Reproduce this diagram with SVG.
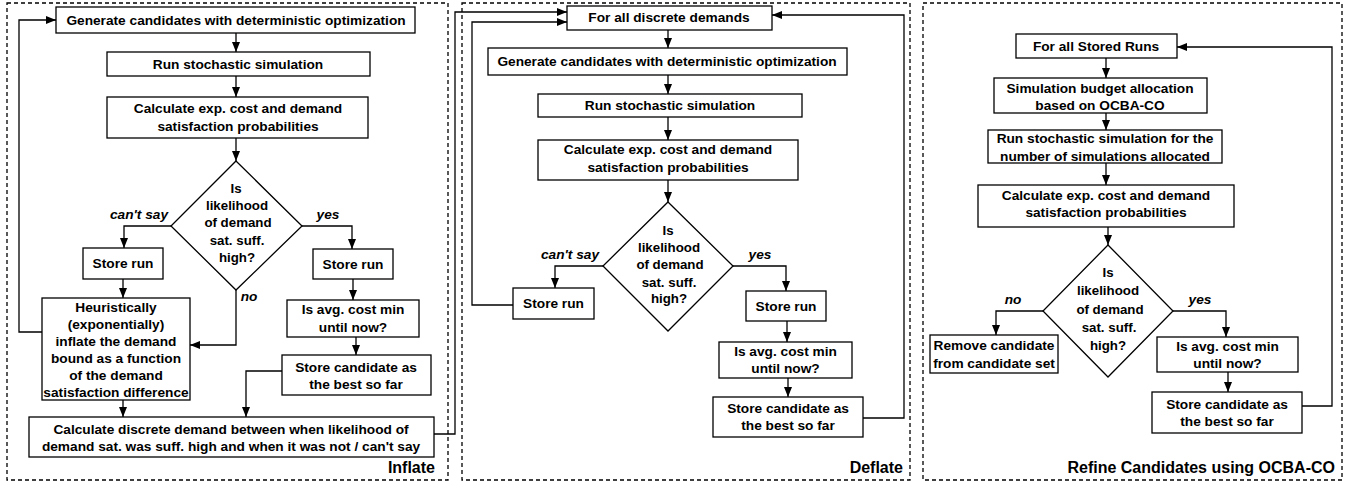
<svg xmlns="http://www.w3.org/2000/svg" width="1350" height="487" viewBox="0 0 1350 487">
<style>
.panel{fill:none;stroke:#000;stroke-width:1.3;stroke-dasharray:4,3}
.box{fill:#fff;stroke:#000;stroke-width:1.3}
.t{font-family:"Liberation Sans",Arial,Helvetica,sans-serif;font-weight:bold;font-size:13.7px;text-anchor:middle;dominant-baseline:central;fill:#000}
.d{font-size:13.3px}
.lbl{font-family:"Liberation Sans",Arial,Helvetica,sans-serif;font-weight:bold;font-style:italic;font-size:13.7px;text-anchor:middle;fill:#000}
.title{font-family:"Liberation Sans",Arial,Helvetica,sans-serif;font-weight:bold;font-size:16px;text-anchor:end;fill:#000}
.c{fill:none;stroke:#000;stroke-width:1.3;marker-end:url(#ah)}
.cn{fill:none;stroke:#000;stroke-width:1.3}
</style>
<defs>
<marker id="ah" markerUnits="userSpaceOnUse" markerWidth="10" markerHeight="8" refX="10" refY="4" orient="auto">
<path d="M0,0 L10,4 L0,8 z" fill="#000"/>
</marker>
</defs>
<rect x="0" y="0" width="1350" height="487" fill="#fff"/>

<g id="panel-inflate">
<rect class="panel" x="7" y="3" width="441" height="477"/>
<text class="title" x="435" y="473">Inflate</text>
</g>
<g id="panel-deflate">
<rect class="panel" x="462" y="3" width="448" height="477"/>
<text class="title" x="903" y="473">Deflate</text>
</g>
<g id="panel-refine">
<rect class="panel" x="923" y="3" width="419" height="477"/>
<text class="title" x="1335" y="473">Refine Candidates using OCBA-CO</text>
</g>

<g id="connectors">
<!-- panel 1 -->
<path class="c" d="M236,33 V52"/>
<path class="c" d="M236,76 V97"/>
<path class="c" d="M236,138 V161"/>
<path class="c" d="M171,226 H124 V248"/>
<path class="c" d="M302,226 H352 V249"/>
<path class="c" d="M123,279 V298"/>
<path class="c" d="M236,290 V345 H190"/>
<path class="c" d="M42,332 H19 V20 H56"/>
<path class="c" d="M353,279 V300"/>
<path class="c" d="M356,337 V355"/>
<path class="c" d="M282,371 H246 V417"/>
<path class="c" d="M123,400 V417"/>
<path class="c" d="M434,434 H455 V12 H567"/>
<!-- panel 2 -->
<path class="c" d="M668,30 V48"/>
<path class="c" d="M668,75 V94"/>
<path class="c" d="M668,117 V140"/>
<path class="c" d="M668,180 V202"/>
<path class="c" d="M603,266 H555 V288"/>
<path class="c" d="M733,266 H786 V291"/>
<path class="c" d="M513,305 H472 V22 H567"/>
<path class="c" d="M787,321 V342"/>
<path class="c" d="M788,378 V397"/>
<path class="c" d="M863,418 H904 V15 H772"/>
<!-- panel 3 -->
<path class="c" d="M1106,58 V78"/>
<path class="c" d="M1106,113 V130"/>
<path class="c" d="M1106,163 V185"/>
<path class="c" d="M1108,227 V245"/>
<path class="c" d="M1043,311 H996 V335"/>
<path class="c" d="M1173,311 H1226 V337"/>
<path class="c" d="M1228,372 V392"/>
<path class="c" d="M1302,406 H1332 V47 H1177"/>
<!-- labels -->
<text class="lbl" x="139" y="219">can't say</text>
<text class="lbl" x="328" y="219">yes</text>
<text class="lbl" x="249" y="301">no</text>
<text class="lbl" x="570" y="259">can't say</text>
<text class="lbl" x="760" y="259">yes</text>
<text class="lbl" x="1013" y="304">no</text>
<text class="lbl" x="1200" y="304">yes</text>
</g>

<!-- Panel 1 nodes -->
<g id="i-generate">
<rect class="box" x="56" y="7" width="359" height="26"/>
<text class="t" x="236" y="20">Generate candidates with deterministic optimization</text>
</g>
<g id="i-run">
<rect class="box" x="107" y="52" width="263" height="24"/>
<text class="t" x="238" y="64">Run stochastic simulation</text>
</g>
<g id="i-calc">
<rect class="box" x="107" y="97" width="261" height="41"/>
<text class="t" x="238" y="108.5">Calculate exp. cost and demand</text>
<text class="t" x="238" y="126">satisfaction probabilities</text>
</g>
<g id="i-decision">
<polygon class="box" points="236,161 302,226 236,290 171,226"/>
<text class="t d" x="236" y="188">Is</text>
<text class="t d" x="237" y="205">likelihood</text>
<text class="t d" x="238" y="222">of demand</text>
<text class="t d" x="237" y="240">sat. suff.</text>
<text class="t d" x="237" y="257">high?</text>
</g>
<g id="i-store-left">
<rect class="box" x="83" y="248" width="80" height="31"/>
<text class="t" x="123" y="263.5">Store run</text>
</g>
<g id="i-store-right">
<rect class="box" x="313" y="249" width="80" height="30"/>
<text class="t" x="353" y="264">Store run</text>
</g>
<g id="i-heuristic">
<rect class="box" x="42" y="298" width="148" height="102"/>
<text class="t" x="116" y="307">Heuristically</text>
<text class="t" x="116" y="324">(exponentially)</text>
<text class="t" x="116" y="341">inflate the demand</text>
<text class="t" x="116" y="358">bound as a function</text>
<text class="t" x="116" y="375">of the demand</text>
<text class="t" x="116" y="392">satisfaction difference</text>
</g>
<g id="i-isavg">
<rect class="box" x="287" y="300" width="132" height="37"/>
<text class="t" x="353" y="309.5">Is avg. cost min</text>
<text class="t" x="353" y="327">until now?</text>
</g>
<g id="i-storecand">
<rect class="box" x="282" y="355" width="149" height="40"/>
<text class="t" x="356" y="367">Store candidate as</text>
<text class="t" x="356" y="384">the best so far</text>
</g>
<g id="i-discrete">
<rect class="box" x="29" y="417" width="405" height="40"/>
<text class="t" x="231" y="429">Calculate discrete demand between when likelihood of</text>
<text class="t" x="231" y="446">demand sat. was suff. high and when it was not / can't say</text>
</g>

<!-- Panel 2 nodes -->
<g id="d-forall">
<rect class="box" x="567" y="6" width="205" height="24"/>
<text class="t" x="669" y="17.5">For all discrete demands</text>
</g>
<g id="d-generate">
<rect class="box" x="488" y="48" width="359" height="27"/>
<text class="t" x="667" y="61.5">Generate candidates with deterministic optimization</text>
</g>
<g id="d-run">
<rect class="box" x="538" y="94" width="264" height="23"/>
<text class="t" x="670" y="105.5">Run stochastic simulation</text>
</g>
<g id="d-calc">
<rect class="box" x="538" y="140" width="260" height="40"/>
<text class="t" x="668" y="149.5">Calculate exp. cost and demand</text>
<text class="t" x="668" y="167">satisfaction probabilities</text>
</g>
<g id="d-decision">
<polygon class="box" points="668,202 733,266 668,331 603,266"/>
<text class="t d" x="668" y="230">Is</text>
<text class="t d" x="669" y="247">likelihood</text>
<text class="t d" x="670" y="264">of demand</text>
<text class="t d" x="669" y="282">sat. suff.</text>
<text class="t d" x="669" y="298">high?</text>
</g>
<g id="d-store-left">
<rect class="box" x="513" y="288" width="81" height="31"/>
<text class="t" x="553.5" y="303.5">Store run</text>
</g>
<g id="d-store-right">
<rect class="box" x="746" y="291" width="80" height="30"/>
<text class="t" x="786" y="306">Store run</text>
</g>
<g id="d-isavg">
<rect class="box" x="719" y="342" width="133" height="36"/>
<text class="t" x="785.5" y="351">Is avg. cost min</text>
<text class="t" x="785.5" y="368.5">until now?</text>
</g>
<g id="d-storecand">
<rect class="box" x="713" y="397" width="150" height="40"/>
<text class="t" x="788" y="408">Store candidate as</text>
<text class="t" x="788" y="425">the best so far</text>
</g>

<!-- Panel 3 nodes -->
<g id="r-forall">
<rect class="box" x="1016" y="34" width="161" height="24"/>
<text class="t" x="1096" y="46">For all Stored Runs</text>
</g>
<g id="r-budget">
<rect class="box" x="994" y="78" width="213" height="35"/>
<text class="t" x="1100" y="88">Simulation budget allocation</text>
<text class="t" x="1100" y="105">based on OCBA-CO</text>
</g>
<g id="r-run">
<rect class="box" x="988" y="130" width="234" height="33"/>
<text class="t" x="1105" y="138.5">Run stochastic simulation for the</text>
<text class="t" x="1105" y="156">number of simulations allocated</text>
</g>
<g id="r-calc">
<rect class="box" x="978" y="185" width="256" height="42"/>
<text class="t" x="1106" y="195.5">Calculate exp. cost and demand</text>
<text class="t" x="1106" y="212.5">satisfaction probabilities</text>
</g>
<g id="r-decision">
<polygon class="box" points="1108,245 1173,311 1108,377 1043,311"/>
<text class="t d" x="1108" y="272">Is</text>
<text class="t d" x="1108" y="290">likelihood</text>
<text class="t d" x="1110" y="309">of demand</text>
<text class="t d" x="1109" y="327">sat. suff.</text>
<text class="t d" x="1108" y="345">high?</text>
</g>
<g id="r-remove">
<rect class="box" x="930" y="335" width="128" height="38"/>
<text class="t" x="994" y="345.5">Remove candidate</text>
<text class="t" x="994" y="363">from candidate set</text>
</g>
<g id="r-isavg">
<rect class="box" x="1157" y="337" width="141" height="35"/>
<text class="t" x="1227.5" y="346.5">Is avg. cost min</text>
<text class="t" x="1227.5" y="363.5">until now?</text>
</g>
<g id="r-storecand">
<rect class="box" x="1152" y="392" width="150" height="41"/>
<text class="t" x="1227" y="404">Store candidate as</text>
<text class="t" x="1227" y="421">the best so far</text>
</g>
</svg>
